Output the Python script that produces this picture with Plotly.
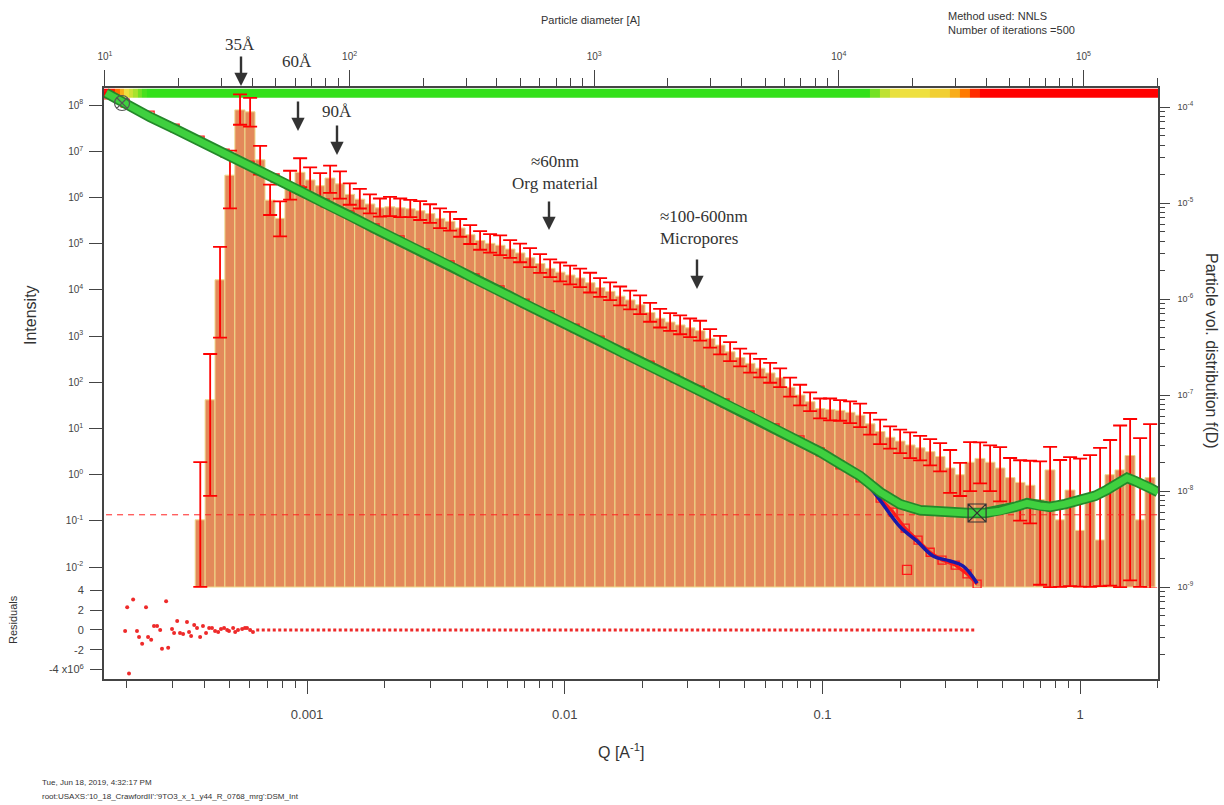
import plotly.graph_objects as go

# ---------------- size distribution (top axis: diameter [A], right axis: f(D)) ----------------
diam_A = [24.5, 26.9, 29.5, 32.4, 35.6, 39.2, 43.0, 47.3, 51.9, 57.1,
          62.7, 68.9, 75.7, 83.2, 91.3, 100, 110, 121, 133, 146,
          161, 177, 194, 213, 234, 257, 283, 311, 341, 375,
          412, 453, 497, 546, 600, 660, 725, 796, 875, 961,
          1056, 1160, 1275, 1401, 1539, 1691, 1858, 2041, 2243, 2464,
          2707, 2974, 3268, 3591, 3946, 4335, 4763, 5233, 5750, 6318,
          6940, 7625, 8378, 9205, 10110, 11110, 12210, 13410, 14740, 16190,
          17790, 19550, 21480, 23600, 25930, 28490, 31300, 34390, 37780, 41510,
          45610, 50110, 55060, 60490, 66460, 73020, 80230, 88150, 96850, 106400,
          116900, 128500, 141100, 155100, 170400, 187200]
log_fD = [-8.30, -7.05, -5.80, -4.71, -4.03, -4.05, -4.55, -4.97, -5.16, -4.81,
          -4.68, -4.76, -4.82, -4.74, -4.80, -4.91, -4.96, -5.01, -5.05, -5.04,
          -5.05, -5.06, -5.08, -5.11, -5.16, -5.19, -5.26, -5.33, -5.39, -5.42,
          -5.44, -5.48, -5.52, -5.57, -5.63, -5.68, -5.72, -5.75, -5.78, -5.83,
          -5.88, -5.92, -5.97, -6.01, -6.06, -6.14, -6.20, -6.24, -6.27, -6.30,
          -6.33, -6.41, -6.48, -6.55, -6.61, -6.67, -6.72, -6.77, -6.82, -6.92,
          -7.00, -7.07, -7.14, -7.15, -7.16, -7.18, -7.21, -7.30, -7.38, -7.44,
          -7.48, -7.52, -7.55, -7.59, -7.64, -7.76, -7.83, -7.70, -7.66, -7.70,
          -7.76, -7.86, -7.91, -7.94, -8.09, -7.78, -8.30, -7.99, -8.41, -8.04,
          -8.51, -7.83, -7.78, -7.63, -8.30, -7.86]
fD_err_up_frac = [3.0, 2.0, 1.2, 0.8, 0.45, 0.4,
                  0.4, 0.45, 0.5, 0.4, 0.4, 0.35, 0.35, 0.35, 0.35,
                  0.3, 0.28, 0.26, 0.25, 0.27, 0.25, 0.24, 0.26, 0.25, 0.27,
                  0.25, 0.24, 0.26, 0.25, 0.25, 0.27, 0.24, 0.25, 0.26, 0.25,
                  0.24, 0.26, 0.25, 0.25, 0.27, 0.25, 0.24, 0.26, 0.25, 0.25,
                  0.26, 0.25, 0.24, 0.26, 0.25, 0.27, 0.25, 0.25, 0.26, 0.24,
                  0.26, 0.25, 0.27, 0.25, 0.26, 0.28, 0.25, 0.27, 0.3, 0.28,
                  0.3, 0.32, 0.3, 0.33, 0.3, 0.32, 0.35, 0.33, 0.35, 0.38,
                  0.54, 0.33, 0.62, 0.47, 0.5, 0.65, 0.6, 0.7, 0.8,
                  1.5, 0.74, 3.2, 1.2, 4.6, 1.6, 8.1, 1.3, 1.9, 1.4, 6.1, 2.6]
fD_err_dn_frac = [0.8, 0.9, 0.75, 0.55, 0.3, 0.3,
                  0.3, 0.3, 0.35, 0.3, 0.3, 0.3, 0.3, 0.3, 0.3,
                  0.22, 0.2, 0.2, 0.19, 0.2, 0.2, 0.18, 0.2, 0.2, 0.21,
                  0.2, 0.19, 0.2, 0.2, 0.2, 0.21, 0.19, 0.2, 0.2, 0.2,
                  0.19, 0.2, 0.2, 0.2, 0.21, 0.2, 0.19, 0.2, 0.2, 0.2,
                  0.2, 0.2, 0.19, 0.2, 0.2, 0.21, 0.2, 0.2, 0.2, 0.19,
                  0.2, 0.2, 0.21, 0.2, 0.2, 0.22, 0.2, 0.21, 0.23, 0.22,
                  0.23, 0.25, 0.23, 0.26, 0.24, 0.25, 0.27, 0.26, 0.28, 0.3,
                  0.45, 0.4, 0.5, 0.45, 0.5, 0.55, 0.5, 0.6, 0.6,
                  0.87, 0.94, 0.8, 0.9, 0.74, 0.89, 0.67, 0.93, 0.94, 0.95, 0.8, 0.93]
fD_base = 1e-9

# quality strip along the top (diameter bin edges and quality 0=red .. 1=green)
strip_edges_A = [9.9, 10.5, 11.0, 11.5, 12.0, 12.5, 13.0, 13.6, 14.2, 14.9,
                 13400, 14700, 16200, 17800, 23600, 28500, 31300, 34400, 37800, 210000]
strip_quality = [0, 0.05, 0.2, 0.35, 0.5, 0.6, 0.72, 0.85, 0.95, 1,
                 0.85, 0.65, 0.52, 0.5, 0.45, 0.35, 0.22, 0.08, 0]
strip_fD = [1.24e-4, 1.55e-4]

# ---------------- intensity vs Q (bottom axis Q, left axis intensity) ----------------
logQ_meas = [-3.78, -3.706, -3.609, -3.512, -3.415, -3.318, -3.221, -3.124, -3.027, -2.930,
             -2.833, -2.736, -2.639, -2.542, -2.445, -2.348, -2.251, -2.154, -2.057, -1.960,
             -1.863, -1.766, -1.669, -1.572, -1.475, -1.378, -1.281, -1.184, -1.087, -1.009,
             -0.932, -0.854, -0.776, -0.699, -0.621, -0.544, -0.439, -0.369, -0.311, -0.253,
             -0.206, -0.156, -0.117, -0.059, 0.011, 0.058, 0.104, 0.147, 0.182, 0.213,
             0.244, 0.271, 0.302]
logI_meas = [8.26, 8.02, 7.74, 7.48, 7.22, 6.94, 6.68, 6.40, 6.14, 5.86,
             5.60, 5.32, 5.06, 4.78, 4.52, 4.23, 3.97, 3.69, 3.43, 3.15,
             2.89, 2.61, 2.35, 2.07, 1.81, 1.53, 1.27, 0.99, 0.73, 0.49,
             0.23, -0.03, -0.38, -0.64, -0.77, -0.81, -0.83, -0.83, -0.79, -0.70,
             -0.62, -0.68, -0.70, -0.64, -0.55, -0.46, -0.33, -0.18, -0.07, -0.14,
             -0.20, -0.29, -0.38]
logQ_data = [-3.78, -3.706, -3.609, -3.512, -3.415, -3.318, -3.221, -3.124, -3.027, -2.930,
             -2.833, -2.736, -2.639, -2.542, -2.445, -2.348, -2.251, -2.154, -2.057, -1.960,
             -1.863, -1.766, -1.669, -1.572, -1.475, -1.378, -1.281, -1.184, -1.087, -1.009,
             -0.932, -0.854, -0.776, -0.726, -0.679, -0.629, -0.582, -0.536, -0.485, -0.439,
             -0.400]
logI_data = [8.22, 8.04, 7.78, 7.50, 7.24, 6.96, 6.70, 6.42, 6.16, 5.88,
             5.62, 5.34, 5.08, 4.80, 4.54, 4.26, 4.00, 3.71, 3.46, 3.17,
             2.91, 2.63, 2.37, 2.09, 1.83, 1.55, 1.29, 1.01, 0.75, 0.49,
             0.21, -0.07, -0.51, -0.81, -1.16, -1.42, -1.68, -1.85, -1.96, -2.15,
             -2.37]
logQ_outlier = [-0.672]
logI_outlier = [-2.06]
logQ_fit = [-0.932, -0.815, -0.699, -0.633, -0.571, -0.505, -0.454, -0.400]
logI_fit = [0.25, -0.29, -1.13, -1.44, -1.76, -1.87, -1.98, -2.35]
background = 0.135
cursor_A = (-3.718, 8.043)
cursor_B = (-0.400, -0.831)

# residuals (x1e6)
logQ_res = [-3.706, -3.698, -3.691, -3.675, -3.660, -3.652, -3.640, -3.625, -3.617, -3.605,
            -3.594, -3.582, -3.570, -3.563, -3.547, -3.539, -3.524, -3.516, -3.504, -3.493,
            -3.481, -3.466, -3.458, -3.450, -3.438, -3.427, -3.415, -3.404, -3.392, -3.380,
            -3.369, -3.357, -3.345, -3.334, -3.322, -3.310, -3.303, -3.287, -3.279, -3.268,
            -3.252, -3.241, -3.233, -3.221, -3.210]
res_vals = [-0.1, 2.3, -4.4, 3.1, -0.1, -0.7, -1.4, 2.3, -0.7, -1.0,
            0.4, 0.4, 0.0, -1.9, 2.9, -1.8, 0.1, -0.3, 0.9, -0.3,
            -0.4, 0.8, -0.2, -0.6, 0.5, 0.2, -0.7, 0.4, -0.3, 0.2,
            0.2, -0.1, -0.2, 0.1, 0.2, 0.0, -0.1, 0.2, -0.2, 0.0,
            0.1, 0.2, 0.2, 0.0, -0.2]
res_zero_Q = [6.35e-4, 0.39]
res_zero_val = [0.0, 0.0]

# ---------------- derived ----------------
n = len(diam_A)
fD = [10 ** v for v in log_fD]
edges = [diam_A[0] ** 1.5 / diam_A[1] ** 0.5]
edges += [(diam_A[i] * diam_A[i + 1]) ** 0.5 for i in range(n - 1)]
edges += [diam_A[-1] ** 1.5 / diam_A[-2] ** 0.5]
bar_x = [(edges[i] + edges[i + 1]) / 2 for i in range(n)]
bar_w = [edges[i + 1] - edges[i] for i in range(n)]
bar_h = [f - fD_base for f in fD]
err_up = [f * r for f, r in zip(fD, fD_err_up_frac)]
err_dn = [f * r for f, r in zip(fD, fD_err_dn_frac)]

Q_meas = [10 ** v for v in logQ_meas]
I_meas = [10 ** v for v in logI_meas]
Q_data = [10 ** v for v in logQ_data]
I_data = [10 ** v for v in logI_data]
Q_fit = [10 ** v for v in logQ_fit]
I_fit = [10 ** v for v in logI_fit]
Q_res = [10 ** v for v in logQ_res]
R_res = [v * 1e6 for v in res_vals]

# ---------------- layout geometry (pixels) ----------------
W, H = 1224, 805
L, R, T, B = 104, 1158, 88, 679


def px(x):
    return (x - L) / (R - L)


def py(y):
    return (B - y) / (B - T)


AX = '#444444'
TXT = '#333333'
SANS = 'Liberation Sans, Arial, sans-serif'
SERIF = 'Liberation Serif, Times New Roman, serif'

fig = go.Figure()

# quality strip
fig.add_trace(go.Heatmap(
    x=strip_edges_A, y=strip_fD, z=[strip_quality], xaxis='x', yaxis='y',
    zmin=0, zmax=1, showscale=False, hoverinfo='skip',
    colorscale=[[0, '#FF0000'], [0.25, '#FF8A00'], [0.5, '#EEE040'], [0.75, '#9EE22A'], [1, '#33E01A']]))

# distribution bars
fig.add_trace(go.Bar(
    x=bar_x, y=bar_h, width=bar_w, base=fD_base, xaxis='x', yaxis='y',
    marker=dict(color='#E3895A', line=dict(color='#EFD98A', width=1)),
    error_y=dict(type='data', symmetric=False, array=err_up, arrayminus=err_dn,
                 color='#FF0000', thickness=1.8, width=7)))

# background level
fig.add_trace(go.Scatter(x=[Q_meas[0], Q_meas[-1]], y=[background, background],
                         xaxis='x2', yaxis='y2', mode='lines',
                         line=dict(color='#FF2020', width=1, dash='6px,5px')))
# data (minus background)
fig.add_trace(go.Scatter(x=Q_data, y=I_data, xaxis='x2', yaxis='y2', mode='lines+markers',
                         line=dict(color='#FF1A1A', width=3),
                         marker=dict(symbol='square-open', size=8, color='#FF1A1A', line=dict(width=1.3))))
fig.add_trace(go.Scatter(x=[10 ** v for v in logQ_outlier], y=[10 ** v for v in logI_outlier],
                         xaxis='x2', yaxis='y2', mode='markers',
                         marker=dict(symbol='square-open', size=9, color='#FF1A1A', line=dict(width=1.3))))
# model fit
fig.add_trace(go.Scatter(x=Q_fit, y=I_fit, xaxis='x2', yaxis='y2', mode='lines',
                         line=dict(color='#1A1AA8', width=3.5, shape='spline')))
# measured intensity
fig.add_trace(go.Scatter(x=Q_meas, y=I_meas, xaxis='x2', yaxis='y2', mode='lines',
                         line=dict(color='#24882A', width=10.5)))
fig.add_trace(go.Scatter(x=Q_meas, y=I_meas, xaxis='x2', yaxis='y2', mode='lines',
                         line=dict(color='#3FD03F', width=7)))
# cursors
fig.add_trace(go.Scatter(x=[10 ** cursor_A[0]], y=[10 ** cursor_A[1]], xaxis='x2', yaxis='y2',
                         mode='markers', marker=dict(symbol='circle-x-open', size=15, color='#555555',
                                                     line=dict(width=1.2))))
fig.add_trace(go.Scatter(x=[10 ** cursor_B[0]], y=[10 ** cursor_B[1]], xaxis='x2', yaxis='y2',
                         mode='markers', marker=dict(symbol='square-x-open', size=18, color='#333333',
                                                     line=dict(width=1.2))))

# residuals
fig.add_trace(go.Scatter(x=Q_res, y=R_res, xaxis='x3', yaxis='y3', mode='markers',
                         marker=dict(size=4, color='#EE2A2A')))
fig.add_trace(go.Scatter(x=res_zero_Q, y=res_zero_val, xaxis='x3', yaxis='y3', mode='lines',
                         line=dict(color='#EE2A2A', width=3, dash='3px,2.5px')))


def sup(p):
    return '10<sup>%d</sup>' % p


top_minor = [k * 10 ** e for e in range(1, 6) for k in range(2, 10) if k * 10 ** e < 2.02e5]
right_minor = [k * 10.0 ** e for e in range(-10, -3) for k in range(2, 10)]
bot_minor = [k * 10.0 ** e for e in range(-4, 1) for k in range(2, 10)]

common = dict(showgrid=False, zeroline=False, showline=True, linecolor=AX, linewidth=1.6,
              ticks='outside', tickcolor=AX, tickwidth=1.3)

fig.update_layout(
    width=W, height=H,
    margin=dict(l=L, r=W - R, t=T, b=H - B, pad=0),
    paper_bgcolor='white', plot_bgcolor='white', showlegend=False,
    font=dict(family=SANS, color=TXT),
    barmode='overlay',
    xaxis=dict(type='log', range=[0.996, 5.305], side='top', anchor='y', domain=[0, 1],
               tickmode='array', tickvals=[1e1, 1e2, 1e3, 1e4, 1e5], ticktext=[sup(p) for p in range(1, 6)],
               ticklen=16, tickfont=dict(size=10, color=AX), ticklabelstandoff=6,
               minor=dict(tickmode='array', tickvals=top_minor, ticks='outside', ticklen=8,
                          tickcolor=AX, tickwidth=1, showgrid=False),
               **common),
    yaxis=dict(type='log', range=[-9.958, -3.802], side='right', anchor='x', domain=[0, 1],
               tickmode='array', tickvals=[10.0 ** p for p in range(-9, -3)],
               ticktext=[sup(p) for p in range(-9, -3)],
               ticklen=10, tickfont=dict(size=9, color=AX), ticklabelstandoff=6,
               minor=dict(tickmode='array', tickvals=right_minor, ticks='outside', ticklen=5,
                          tickcolor=AX, tickwidth=1, showgrid=False),
               **common),
    xaxis2=dict(type='log', range=[-3.788, 0.302], overlaying='x', side='bottom', anchor='y2',
                tickmode='array', tickvals=[1e-3, 1e-2, 1e-1, 1],
                ticktext=['0.001', '0.01', '0.1', '1'],
                ticklen=13, tickfont=dict(size=13, color=AX), ticklabelstandoff=10,
                minor=dict(tickmode='array', tickvals=bot_minor, ticks='outside', ticklen=7,
                           tickcolor=AX, tickwidth=1, showgrid=False),
                **common),
    yaxis2=dict(type='log', range=[-4.424, 8.368], overlaying='y', side='left', anchor='x2',
                tickmode='array', tickvals=[10.0 ** p for p in range(-2, 9)],
                ticktext=[sup(p) for p in range(-2, 9)],
                ticklen=13, tickfont=dict(size=10, color=AX), ticklabelstandoff=4,
                **common),
    xaxis3=dict(type='log', range=[-3.788, 0.302], domain=[0, 1], anchor='y3', visible=False),
    yaxis3=dict(range=[-4.962e6, 4.253e6], domain=[0, 0.154], anchor='x3', side='left',
                showgrid=False, zeroline=False, showline=False, ticks='outside', ticklen=13,
                tickcolor=AX, tickwidth=1.3,
                tickmode='array', tickvals=[4e6, 2e6, 0, -2e6, -4e6],
                ticktext=['4', '2', '0', '-2', '-4 x10<sup>6</sup>'],
                tickfont=dict(size=11, color=AX), ticklabelstandoff=4),
)

ann = []


def text(x, y, s, size, family=SANS, angle=0, xanchor='center', align='center', color=TXT):
    ann.append(dict(x=px(x), y=py(y), xref='paper', yref='paper', text=s, showarrow=False,
                    font=dict(size=size, family=family, color=color), textangle=angle,
                    xanchor=xanchor, yanchor='middle', align=align))


def arrow(x, y0, y1):
    ann.append(dict(x=px(x), y=py(y1), xref='paper', yref='paper', text='', showarrow=True,
                    ax=0, ay=-(y1 - y0), axref='pixel', ayref='pixel',
                    arrowhead=2, arrowsize=1.1, arrowwidth=2.4, arrowcolor='#333333', standoff=0))


text(590, 20, 'Particle diameter [A]', 11)
text(946, 23, 'Method used: NNLS<br>Number of iterations =500', 11, xanchor='left', align='left')
text(30, 315, 'Intensity', 16, angle=-90)
text(13, 620, 'Residuals', 11, angle=-90)
text(1212, 351, 'Particle vol. distribution f(D)', 16, angle=90)
text(621, 751, 'Q [A<sup>-1</sup>]', 16)
text(40, 782, 'Tue, Jun 18, 2019, 4:32:17 PM', 8, xanchor='left', align='left')
text(40, 796, "root:USAXS:'10_18_CrawfordII':'9TO3_x_1_y44_R_0768_mrg':DSM_Int", 8,
     xanchor='left', align='left')

text(240, 44, '35Å', 17, family=SERIF)
text(297, 62, '60Å', 17, family=SERIF)
text(337, 111, '90Å', 17, family=SERIF)
text(555, 173, '≈60nm<br>Org material', 17, family=SERIF)
text(658, 228, '≈100-600nm<br>Micropores', 17, family=SERIF, xanchor='left', align='left')

arrow(241, 55, 86)
arrow(298, 100, 131)
arrow(337, 124, 155)
arrow(549, 200, 230)
arrow(697, 258, 289)

fig.update_layout(annotations=ann)

fig.write_html('out.html')
